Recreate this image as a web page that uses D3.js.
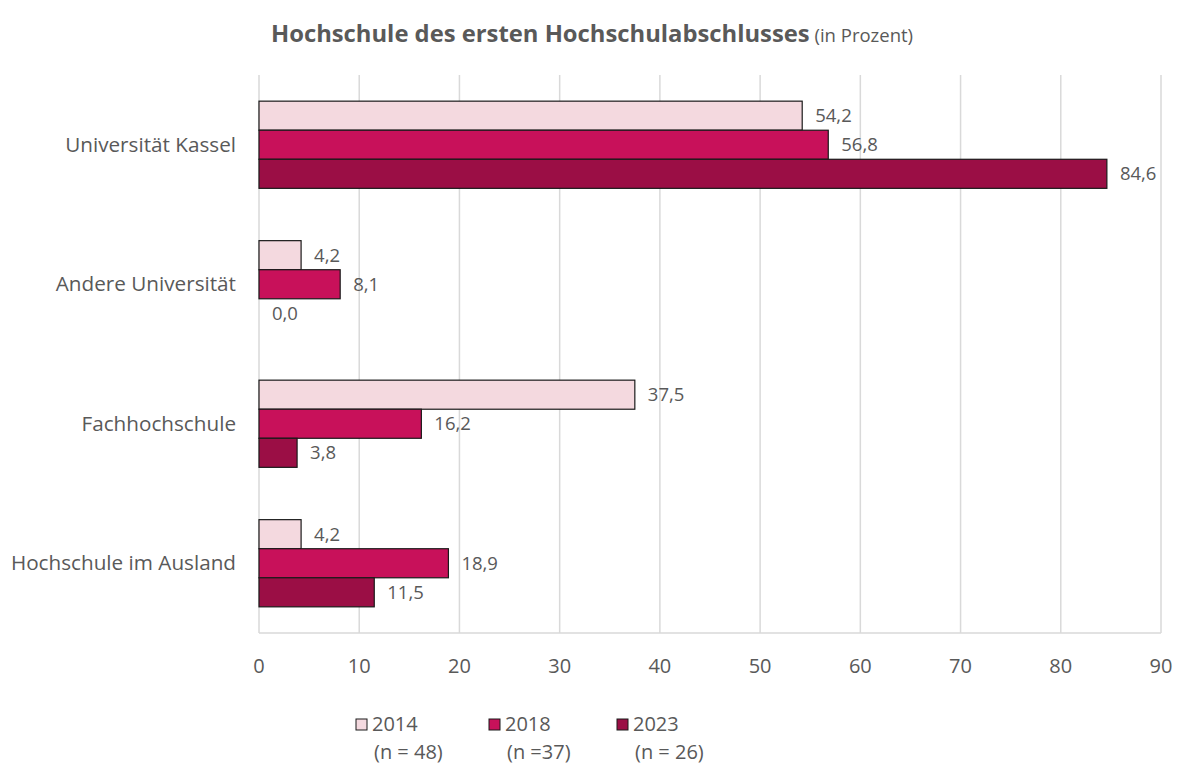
<!DOCTYPE html>
<html lang="de">
<head>
<meta charset="utf-8">
<title>Hochschule des ersten Hochschulabschlusses</title>
<script src="https://cdnjs.cloudflare.com/ajax/libs/d3/7.8.5/d3.min.js"></script>
<style>
  body { margin: 0; background: #fff; }
  text { font-family: "Open Sans", sans-serif; fill: #595959; }
</style>
</head>
<body>
<svg id="chart" width="1181" height="770"></svg>
<script>
const categories = ["Universität Kassel", "Andere Universität", "Fachhochschule", "Hochschule im Ausland"];
const years = ["2014", "2018", "2023"];
const sampleSizes = ["(n = 48)", "(n =37)", "(n = 26)"];
const values2014 = [54.2, 4.2, 37.5, 4.2];
const values2018 = [56.8, 8.1, 16.2, 18.9];
const values2023 = [84.6, 0.0, 3.8, 11.5];
const xTicks = [0, 10, 20, 30, 40, 50, 60, 70, 80, 90];
const colors = ["#f4d9df", "#c8115a", "#9b0e45"];

const series = [values2014, values2018, values2023];

const svg = d3.select("#chart");
const margin = {left: 259, right: 20, top: 75, bottom: 137};
const width = 1181, height = 770;

const x = d3.scaleLinear().domain([0, 90]).range([margin.left, 1161]);
const y = d3.scaleBand().domain(categories).range([margin.top, height - margin.bottom]).paddingInner(0.375).paddingOuter(0.1875);
const ySub = d3.scaleBand().domain(years).range([0, y.bandwidth()]);

// title
const title = svg.append("text")
  .attr("x", 592).attr("y", 42)
  .attr("text-anchor", "middle");
title.append("tspan").text("Hochschule des ersten Hochschulabschlusses")
  .style("font-weight", "bold").style("font-size", "23.8px");
title.append("tspan").text(" (in Prozent)").style("font-size", "18.5px");

// gridlines
svg.append("g").selectAll("line")
  .data(xTicks)
  .join("line")
  .attr("x1", d => x(d)).attr("x2", d => x(d))
  .attr("y1", margin.top).attr("y2", height - margin.bottom)
  .attr("stroke", "#d9d9d9").attr("stroke-width", 1.5);

// bottom axis line
svg.append("line")
  .attr("x1", x(0)).attr("x2", x(90))
  .attr("y1", height - margin.bottom).attr("y2", height - margin.bottom)
  .attr("stroke", "#d9d9d9").attr("stroke-width", 1.5);

// tick labels
svg.append("g").selectAll("text")
  .data(xTicks)
  .join("text")
  .attr("x", d => x(d)).attr("y", 673)
  .attr("text-anchor", "middle")
  .style("font-size", "20px")
  .text(d => d);

// category labels
svg.append("g").selectAll("text")
  .data(categories)
  .join("text")
  .attr("x", 236).attr("y", d => y(d) + y.bandwidth() / 2 + 7)
  .attr("text-anchor", "end")
  .style("font-size", "20.7px")
  .text(d => d);

const fmt = v => d3.format(".1f")(v).replace(".", ",");

years.forEach((yr, i) => {
  const g = svg.append("g");
  g.selectAll("rect")
    .data(categories)
    .join("rect")
    .attr("x", x(0))
    .attr("y", d => y(d) + ySub(yr))
    .attr("width", (d, j) => x(series[i][j]) - x(0))
    .attr("height", ySub.bandwidth())
    .attr("fill", colors[i])
    .attr("stroke", (d, j) => series[i][j] > 0 ? "#1a1a1a" : "none")
    .attr("stroke-width", 1.2);
  g.selectAll("text")
    .data(categories)
    .join("text")
    .attr("x", (d, j) => x(series[i][j]) + 13)
    .attr("y", d => y(d) + ySub(yr) + ySub.bandwidth() / 2 + 6.5)
    .style("font-size", "18.5px")
    .text((d, j) => fmt(series[i][j]));
});

// legend
const legendX = [356, 489, 617];
const legend = svg.append("g");
years.forEach((yr, i) => {
  legend.append("rect")
    .attr("x", legendX[i]).attr("y", 719)
    .attr("width", 11).attr("height", 11)
    .attr("fill", colors[i]).attr("stroke", "#1a1a1a").attr("stroke-width", 1);
  legend.append("text")
    .attr("x", legendX[i] + 16).attr("y", 731)
    .style("font-size", "20px")
    .text(yr);
  legend.append("text")
    .attr("x", legendX[i] + 18).attr("y", 759)
    .style("font-size", "20px")
    .text(sampleSizes[i]);
});
</script>
</body>
</html>
